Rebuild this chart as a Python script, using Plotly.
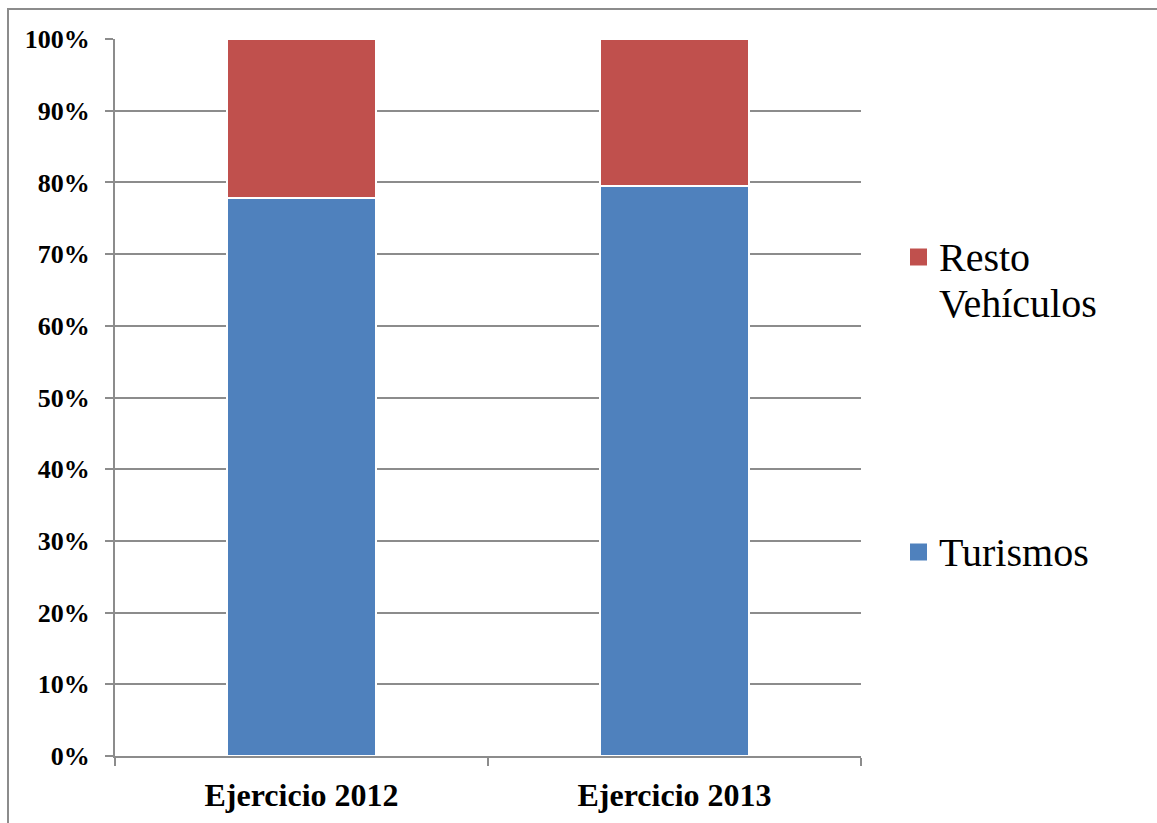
import plotly.graph_objects as go

categories = ["Ejercicio 2012", "Ejercicio 2013"]
turismos = [77.8, 79.5]
resto = [22.2, 20.5]
series_names = ["Turismos", "Resto Vehículos"]
series_colors = ["#4F81BD", "#C0504D"]
legend_lines = {"Resto Vehículos": ["Resto", "Vehículos"], "Turismos": ["Turismos"]}
y_ticks = [0, 10, 20, 30, 40, 50, 60, 70, 80, 90, 100]
y_tick_labels = [f"{v}%" for v in y_ticks]

SERIF = "Liberation Serif"
W, H = 1157, 823
L, R, T, B = 115, 1157 - 861, 39, 823 - 756
pw = W - L - R
ph = H - T - B


def px_x(px):
    return (px - L) / pw


def px_y(py):
    return (H - B - py) / ph


fig = go.Figure()
for name, vals, col in zip(series_names, [turismos, resto], series_colors):
    fig.add_trace(go.Bar(
        x=categories, y=vals, name=name,
        marker=dict(color=col, line=dict(color="white", width=2)),
    ))

# outer chart border
fig.add_shape(type="rect", xref="paper", yref="paper",
              x0=px_x(8), x1=px_x(W + 5), y0=px_y(H + 5), y1=px_y(9),
              line=dict(color="#8c8c8c", width=2), fillcolor="rgba(0,0,0,0)", layer="below")

# legend drawn as keys + text (serif font)
legend_rows = [("Resto Vehículos", 257), ("Turismos", 552)]
line_gap = 46
for name, cy in legend_rows:
    col = series_colors[series_names.index(name)]
    fig.add_shape(type="rect", xref="paper", yref="paper",
                  x0=px_x(910), x1=px_x(927), y0=px_y(cy + 8.5), y1=px_y(cy - 8.5),
                  line=dict(color=col, width=0), fillcolor=col)
    for i, line in enumerate(legend_lines[name]):
        fig.add_annotation(xref="paper", yref="paper", x=px_x(937), y=px_y(cy + i * line_gap),
                           text=line, showarrow=False, xanchor="left", yanchor="middle",
                           font=dict(family=SERIF, size=40, color="black"))

fig.update_layout(
    template="none",
    width=W, height=H,
    margin=dict(l=L, r=R, t=T, b=B),
    barmode="stack", bargap=0.6,
    plot_bgcolor="white", paper_bgcolor="white",
    font=dict(family=SERIF, color="black"),
    showlegend=False,
    xaxis=dict(
        showline=True, linecolor="#8c8c8c", linewidth=2, showgrid=False,
        ticks="outside", tickson="boundaries", ticklen=8, tickcolor="#8c8c8c", tickwidth=2,
        tickfont=dict(size=32, family=SERIF, color="black", weight="bold"),
        ticklabelstandoff=10,
    ),
    yaxis=dict(
        range=[0, 100], tickvals=y_ticks, ticktext=y_tick_labels,
        showline=True, linecolor="#8c8c8c", linewidth=2,
        ticks="outside", ticklen=8, tickcolor="#8c8c8c", tickwidth=2,
        showgrid=True, gridcolor="#8c8c8c", gridwidth=2,
        tickfont=dict(size=26, family=SERIF, color="black", weight="bold"),
        ticklabelstandoff=10,
        zeroline=False,
    ),
)
fig.write_html("out.html")
